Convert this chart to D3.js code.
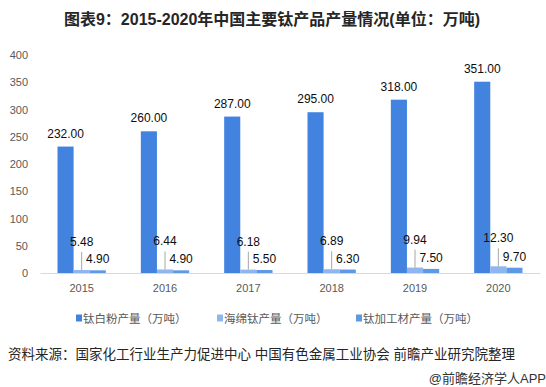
<!DOCTYPE html>
<html>
<head>
<meta charset="utf-8">
<title>钛产品产量</title>
<style>
  html, body { margin: 0; padding: 0; background: #fff; }
  svg { display: block; font-family: "Liberation Sans", Arial, "Noto Sans CJK SC", sans-serif; }
</style>
</head>
<body>
<script src="https://cdn.jsdelivr.net/npm/d3@7"></script>
<script>
var years = ["2015", "2016", "2017", "2018", "2019", "2020"];
var seriesNames = ["钛白粉产量（万吨）", "海绵钛产量（万吨）", "钛加工材产量（万吨）"];
var titaniumDioxide = [232.00, 260.00, 287.00, 295.00, 318.00, 351.00];
var spongeTitanium = [5.48, 6.44, 6.18, 6.89, 9.94, 12.30];
var titaniumMill = [4.90, 4.90, 5.50, 6.30, 7.50, 9.70];
var yTicks = [0, 50, 100, 150, 200, 250, 300, 350, 400];

var colors = ["#4283e0", "#8fb6ee", "#5f99e6"];
var allSeries = [titaniumDioxide, spongeTitanium, titaniumMill];

var W = 546, H = 387;
var svg = d3.select("body").append("svg")
    .attr("width", W)
    .attr("height", H);

var x0 = d3.scaleBand().domain(years).range([40, 540])
    .paddingInner(0.42).paddingOuter(0.21);
var x1 = d3.scaleBand().domain(d3.range(3)).range([0, x0.bandwidth()]);
var y = d3.scaleLinear().domain([0, 400]).range([273, 55]);

// title
svg.append("text")
    .attr("x", 272).attr("y", 25)
    .attr("text-anchor", "middle")
    .style("font-size", "16px").style("font-weight", "bold")
    .style("fill", "#262626")
    .text("图表9：2015-2020年中国主要钛产品产量情况(单位：万吨)");

// y axis, labels only
var yAxis = svg.append("g")
    .attr("transform", "translate(28,0)")
    .call(d3.axisLeft(y).tickValues(yTicks).tickSize(0).tickPadding(0));
yAxis.select(".domain").remove();
yAxis.selectAll("text").style("font-size", "11px").style("fill", "#595959")
    .style("font-family", "'Liberation Sans', Arial, sans-serif");

// x axis
var xAxis = svg.append("g")
    .attr("transform", "translate(0,273)")
    .call(d3.axisBottom(x0).tickSize(0).tickPadding(11));
xAxis.select(".domain").attr("stroke", "#d9d9d9");
xAxis.selectAll("text").style("font-size", "11px").style("fill", "#595959")
    .style("font-family", "'Liberation Sans', Arial, sans-serif");

// bars
var groups = svg.append("g").selectAll("g")
    .data(years)
    .join("g")
    .attr("transform", d => "translate(" + x0(d) + ",0)");

groups.each(function(yr, i) {
    var g = d3.select(this);
    allSeries.forEach(function(vals, s) {
        var v = vals[i];
        var cx = x1(s) + x1.bandwidth() / 2;
        g.append("rect")
            .attr("x", x1(s))
            .attr("y", y(v))
            .attr("width", x1.bandwidth())
            .attr("height", y(0) - y(v))
            .attr("fill", colors[s]);

        var lbl = g.append("text")
            .attr("x", cx)
            .attr("text-anchor", "middle")
            .style("font-size", "12px")
            .style("fill", "#0d0d0d")
            .text(v.toFixed(2));
        if (s === 0) {
            lbl.attr("y", y(v) - 9);
        } else if (s === 1) {
            lbl.attr("y", y(v) - 24);
            g.append("line")
                .attr("x1", cx).attr("x2", cx)
                .attr("y1", y(v) - 18).attr("y2", y(v))
                .attr("stroke", "#a6a6a6").attr("stroke-width", 1);
        } else {
            lbl.attr("y", y(v) - 7);
        }
    });
});

// legend
var legendX = [76, 217, 356];
var legend = svg.append("g").selectAll("g")
    .data(seriesNames)
    .join("g")
    .attr("transform", (d, i) => "translate(" + legendX[i] + ",318)");
legend.append("rect")
    .attr("x", 0).attr("y", -3.5)
    .attr("width", 6).attr("height", 7)
    .attr("fill", (d, i) => colors[i]);
legend.append("text")
    .attr("x", 7).attr("y", 4.5)
    .style("font-size", "11.5px").style("fill", "#595959")
    .text(d => d);

// source
svg.append("text")
    .attr("x", 8).attr("y", 359)
    .style("font-size", "13.5px").style("fill", "#262626")
    .text("资料来源：国家化工行业生产力促进中心 中国有色金属工业协会 前瞻产业研究院整理");

svg.append("text")
    .attr("x", 546).attr("y", 383)
    .attr("text-anchor", "end")
    .style("font-size", "13px").style("fill", "#333")
    .text("@前瞻经济学人APP");
</script>
</body>
</html>
